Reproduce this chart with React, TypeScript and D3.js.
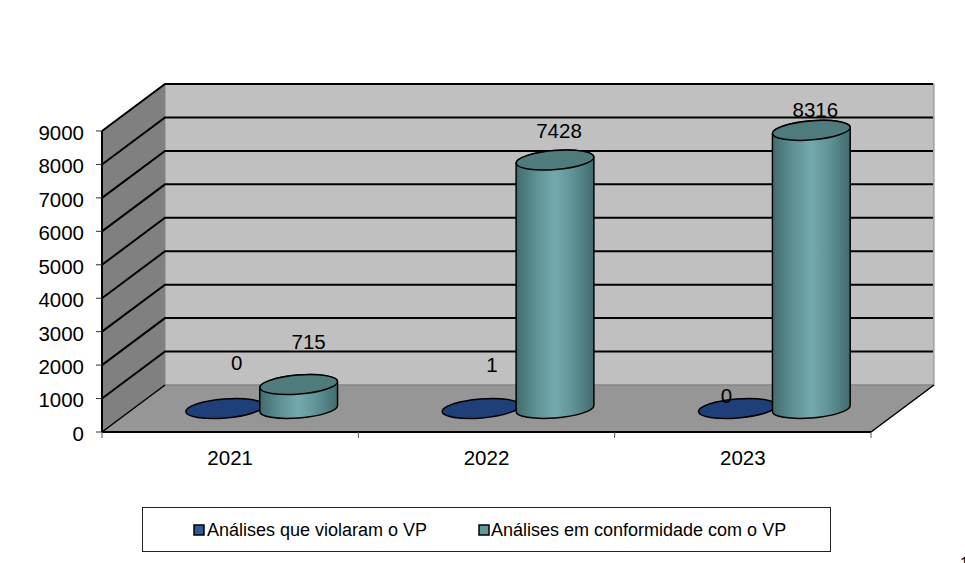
import React from "react";
import * as d3 from "d3";

const years = ["2021", "2022", "2023"];
const seriesNames = ["Análises que violaram o VP", "Análises em conformidade com o VP"];
const violated = [0, 1, 0];
const compliant = [715, 7428, 8316];
const yTicks = [0, 1000, 2000, 3000, 4000, 5000, 6000, 7000, 8000, 9000];

// layout
const W = 965, H = 563;
const FONT = "'Liberation Sans', Arial, sans-serif";
const FS = 20.5;
const DX = 63, DY = -47;
const x = d3.scaleBand<string>().domain(years).range([102, 871]);
const y = d3.scaleLinear().domain([0, 9000]).range([432, 131]);
const RX = 39, RY = 9.5, THETA = (4.7 * Math.PI) / 180;
const c = Math.cos(THETA), s = Math.sin(THETA);
const EX = Math.sqrt(RX * RX * c * c + RY * RY * s * s);
const EY = ((RX * RX - RY * RY) * s * c) / EX;
const ARC = `${RX} ${RY} -4.7 0 0`;

// hand nudges of the data labels relative to their bar's top centre
const labelNudge = [
  [[12, -46], [10, -43]],
  [[11, -44], [4, -29]],
  [[-11, -13], [4, -21]],
];

function Cylinder({ cx, base, top, topFill }: { cx: number; base: number; top: number; topFill: string }) {
  const body = `M${cx - EX},${top + EY} L${cx - EX},${base + EY} A${ARC} ${cx + EX},${base - EY} L${cx + EX},${top - EY} A${ARC} ${cx - EX},${top + EY} Z`;
  return (
    <g stroke="#000" strokeWidth={1.5}>
      {top < base - 0.5 && <path d={body} fill="url(#teal)" />}
      <ellipse cx={cx} cy={top} rx={RX} ry={RY} transform={`rotate(-4.7 ${cx} ${top})`} fill={topFill} />
    </g>
  );
}

export default function App() {
  const x0 = x.range()[0], x1 = x.range()[1];
  const y0 = y(0), yTop = y(9000);
  const barCentre = (cat: string, ser: number) => (x(cat) as number) + x.bandwidth() / 2 + (ser === 0 ? -37 : 37) + DX / 2;
  const baseY = y0 + DY / 2;
  return (
    <svg width={W} height={H} style={{ position: "absolute", left: 0, top: 0, background: "#fff" }} fontFamily={FONT}>
      <defs>
        <linearGradient id="teal" x1="0" x2="1" y1="0" y2="0">
          <stop offset="0" stopColor="#416c6e" />
          <stop offset="0.25" stopColor="#5d9093" />
          <stop offset="0.5" stopColor="#74aaae" />
          <stop offset="0.75" stopColor="#5d9093" />
          <stop offset="1" stopColor="#416c6e" />
        </linearGradient>
      </defs>

      {/* back wall */}
      <rect x={x0 + DX} y={yTop + DY} width={x1 - x0} height={y0 - yTop} fill="#c0c0c0" stroke="#8a8a8a" />
      {/* left wall */}
      <path d={`M${x0},${y0} L${x0 + DX},${y0 + DY} L${x0 + DX},${yTop + DY} L${x0},${yTop} Z`} fill="#808080" />
      {/* floor */}
      <path d={`M${x0},${y0} L${x1},${y0} L${x1 + DX},${y0 + DY} L${x0 + DX},${y0 + DY} Z`} fill="#969696" stroke="#808080" />

      {/* gridlines */}
      {yTicks.slice(1).map((t) => (
        <polyline key={t} points={`${x0},${y(t)} ${x0 + DX},${y(t) + DY} ${x1 + DX - 1},${y(t) + DY}`} fill="none" stroke="#000" strokeWidth={2} />
      ))}
      <line x1={x0} y1={y0} x2={x0 + DX} y2={y0 + DY} stroke="#000" strokeWidth={1.5} />
      <line x1={x1} y1={y0} x2={x1 + DX} y2={y0 + DY} stroke="#000" strokeWidth={1.5} />

      {/* axes */}
      <line x1={x0} y1={yTop} x2={x0} y2={y0} stroke="#000" strokeWidth={2} />
      <line x1={x0} y1={y0} x2={x1} y2={y0} stroke="#000" strokeWidth={2} />
      {yTicks.map((t) => (
        <g key={t}>
          <line x1={x0 - 6} x2={x0} y1={y(t)} y2={y(t)} stroke="#333" strokeWidth={1} />
          <text x={x0 - 18} y={y(t) + 1.5} dy="0.36em" textAnchor="end" fontSize={FS} fill="#000">{t}</text>
        </g>
      ))}
      {[...years.map((v) => x(v) as number), x1].map((v, i) => (
        <line key={i} x1={v} x2={v} y1={y0} y2={y0 + 6} stroke="#555" strokeWidth={1} />
      ))}
      {years.map((v) => (
        <text key={v} x={(x(v) as number) + x.bandwidth() / 2} y={465} textAnchor="middle" fontSize={FS} fill="#000">{v}</text>
      ))}

      {/* series 1: flat discs, values too small to lift off the floor */}
      {years.map((v, i) => (
        <Cylinder key={v} cx={barCentre(v, 0)} base={baseY} top={baseY - (y0 - y(violated[i]))} topFill="#1f3f78" />
      ))}
      {/* series 2 */}
      {years.map((v, i) => (
        <Cylinder key={v} cx={barCentre(v, 1)} base={baseY} top={baseY - (y0 - y(compliant[i]))} topFill="#4f7b7d" />
      ))}

      {/* data labels */}
      {years.map((v, i) =>
        [violated[i], compliant[i]].map((val, ser) => {
          const cx = barCentre(v, ser);
          const top = baseY - (y0 - y(val));
          const [nx, ny] = labelNudge[i][ser];
          return (
            <text key={v + ser} x={cx + nx} y={top + ny} dy="0.36em" textAnchor="middle" fontSize={FS} fill="#000">{val}</text>
          );
        })
      )}

      {/* legend */}
      <rect x={142.5} y={507.5} width={688} height={44} fill="#fff" stroke="#222" strokeWidth={1} />
      <rect x={194} y={525} width={10} height={10} fill="#2f5a9a" stroke="#000" strokeWidth={1.5} />
      <text x={207} y={536} fontSize={18} fill="#000">{seriesNames[0]}</text>
      <rect x={479} y={525} width={10} height={10} fill="#5e9a9c" stroke="#000" strokeWidth={1.5} />
      <text x={491} y={536} fontSize={18} fill="#000">{seriesNames[1]}</text>

      {/* page-number fragment at the edge */}
      <text x={960} y={569} fontSize={16} fill="#000">1</text>
    </svg>
  );
}
